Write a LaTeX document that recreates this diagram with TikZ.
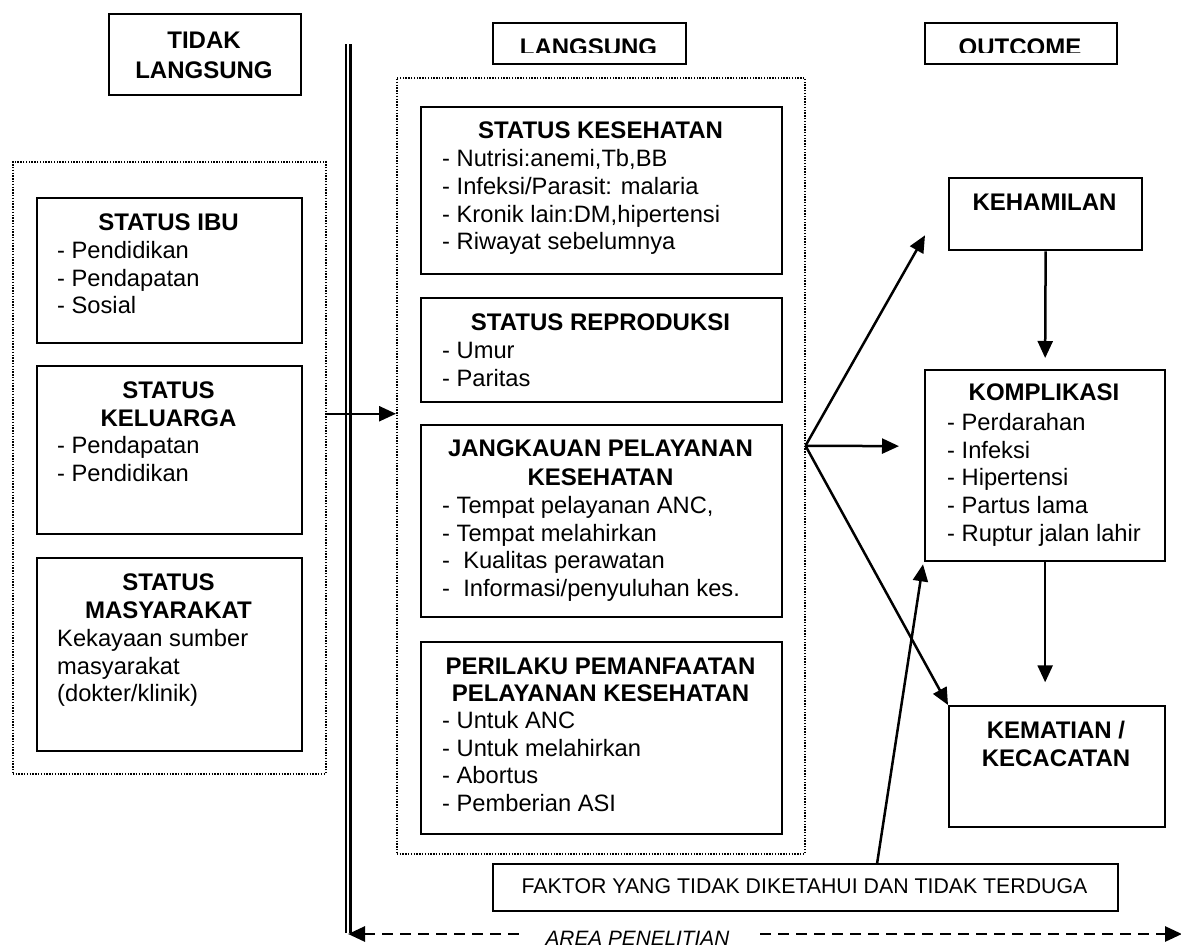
\documentclass[tikz,border=0pt]{standalone}
\usepackage{fontspec}
\setmainfont{Liberation Sans}
\usetikzlibrary{arrows.meta,calc}
\begin{document}
\begin{tikzpicture}[x=1pt,y=-1pt,
  box/.style={draw, line width=2.3pt, inner sep=0pt, anchor=north west},
  grp/.style={draw, line width=1.5pt, dash pattern=on 1.4pt off 1.4pt, inner sep=0pt, anchor=north west},
  ttl/.style={anchor=base, inner sep=0pt, font=\bfseries\fontsize{24}{27.7}\selectfont},
  itm/.style={anchor=base west, inner sep=0pt, font=\fontsize{23.7}{27.7}\selectfont},
  arr/.style={line width=2.5pt, -{Triangle[length=17pt,width=15pt]}},
  dblline/.style={line width=2.4pt},
  areaarr/.style={line width=2.8pt, dash pattern=on 11pt off 7pt, {Triangle[length=17pt,width=15pt]}-{Triangle[length=17pt,width=15pt]}}
]
\useasboundingbox (0,0) rectangle (1181,948);

% dotted groups
\node[grp, minimum width=313, minimum height=612] (leftgrp) at (12,161) {};
\node[grp, minimum width=408, minimum height=776] (midgrp) at (396,77) {};

% headers
\node[box, minimum width=192, minimum height=81] (hTidak) at (108,13) {};
\node[ttl] (hTidak-1) at (204,48) {TIDAK};
\node[ttl] (hTidak-2) at (204,78) {LANGSUNG};
\node[box, minimum width=193, minimum height=41] (hLang) at (492,22) {};
\begin{scope}
\clip (492,22) rectangle (685,52);
\node[ttl] (hLang-t) at (588.5,55) {LANGSUNG};
\end{scope}
\node[box, minimum width=192, minimum height=41] (hOut) at (924,22) {};
\begin{scope}
\clip (924,22) rectangle (1116,52);
\node[ttl] (hOut-t) at (1020,55) {OUTCOME};
\end{scope}

% double vertical line
\draw[dblline] (346,44) -- (346,933);
\draw[dblline] (350.5,44) -- (350.5,933);

% left column
\node[box, minimum width=265, minimum height=145] (ibu) at (36,197) {};
\node[ttl] (ibu-t) at (168.5,230.5) {STATUS IBU};
\foreach \t [count=\i from 0] in {{- Pendidikan},{- Pendapatan},{- Sosial}}
  \node[itm] (ibu-\i) at (57,258.5+27.7*\i) {\t};

\node[box, minimum width=265, minimum height=168] (kel) at (36,365) {};
\node[ttl] (kel-t1) at (168.5,398.5) {STATUS};
\node[ttl] (kel-t2) at (168.5,426.5) {KELUARGA};
\foreach \t [count=\i from 0] in {{- Pendapatan},{- Pendidikan}}
  \node[itm] (kel-\i) at (57,453.5+27.7*\i) {\t};

\node[box, minimum width=265, minimum height=193] (mas) at (36,557) {};
\node[ttl] (mas-t1) at (168.5,590.5) {STATUS};
\node[ttl] (mas-t2) at (168.5,618.5) {MASYARAKAT};
\foreach \t [count=\i from 0] in {{Kekayaan sumber},{masyarakat},{(dokter/klinik)}}
  \node[itm] (mas-\i) at (57,646.5+27.7*\i) {\t};

% middle column
\node[box, minimum width=361, minimum height=167] (kes) at (420,106) {};
\node[ttl] (kes-t) at (600.5,138.5) {STATUS KESEHATAN};
\foreach \t [count=\i from 0] in {{- Nutrisi:anemi,Tb,BB},{- Infeksi/Parasit: malaria},{- Kronik lain:DM,hipertensi},{- Riwayat sebelumnya}}
  \node[itm] (kes-\i) at (442,166.5+27.8*\i) {\t};

\node[box, minimum width=361, minimum height=104] (rep) at (420,297) {};
\node[ttl] (rep-t) at (600.5,330.5) {STATUS REPRODUKSI};
\foreach \t [count=\i from 0] in {{- Umur},{- Paritas}}
  \node[itm] (rep-\i) at (442,358.5+27.7*\i) {\t};

\node[box, minimum width=361, minimum height=192] (jang) at (420,424) {};
\node[ttl] (jang-t1) at (600.5,456.5) {JANGKAUAN PELAYANAN};
\node[ttl] (jang-t2) at (600.5,485) {KESEHATAN};
\foreach \t [count=\i from 0] in {{- Tempat pelayanan ANC,},{- Tempat melahirkan},{-\ \ Kualitas perawatan},{-\ \ Informasi/penyuluhan kes.}}
  \node[itm] (jang-\i) at (442,513.5+27.7*\i) {\t};

\node[box, minimum width=361, minimum height=192] (pril) at (420,641) {};
\node[ttl] (pril-t1) at (600.5,674.5) {PERILAKU PEMANFAATAN};
\node[ttl] (pril-t2) at (600.5,701.5) {PELAYANAN KESEHATAN};
\foreach \t [count=\i from 0] in {{- Untuk ANC},{- Untuk melahirkan},{- Abortus},{- Pemberian ASI}}
  \node[itm] (pril-\i) at (442,728.5+27.7*\i) {\t};

% right column
\node[box, minimum width=193, minimum height=72] (keh) at (948,177) {};
\node[ttl] (keh-t) at (1044.5,210.5) {KEHAMILAN};

\node[box, minimum width=240, minimum height=191] (kom) at (924,369) {};
\node[ttl] (kom-t) at (1044,400.5) {KOMPLIKASI};
\foreach \t [count=\i from 0] in {{- Perdarahan},{- Infeksi},{- Hipertensi},{- Partus lama},{- Ruptur jalan lahir}}
  \node[itm] (kom-\i) at (947,430.5+27.7*\i) {\t};

\node[box, minimum width=216, minimum height=121] (kem) at (948,705) {};
\node[ttl] (kem-t1) at (1056,738.5) {KEMATIAN /};
\node[ttl] (kem-t2) at (1056,766.5) {KECACATAN};

% unknown factors
\node[box, minimum width=625, minimum height=47] (fak) at (492,863) {};
\node[anchor=base, inner sep=0pt, font=\fontsize{21.3}{25}\selectfont] (fak-t) at (804.5,893.5) {FAKTOR YANG TIDAK DIKETAHUI DAN TIDAK TERDUGA};

% arrows
\draw[arr] ($(leftgrp.east)+(0,-54)$) -- ($(midgrp.west)+(0,-52)$);
\coordinate (fan) at ($(midgrp.east)+(0,-20)$);
\draw[arr] (fan) -- ($(keh.south west)+(-23,-16)$);
\draw[arr] (fan) -- ($(kom.west)+(-25,-19.5)$);
\draw[arr] (fan) -- (kem.north west);
\draw[arr] (keh.south) -- ($(kom.north)+(0,-11)$);
\draw[arr] (kom.south) -- ($(kom.south)+(0,120)$);
\draw[arr] ($(fak.north)+(71.5,0)$) -- ($(kom.south west)+(-1,2)$);

% research area
\coordinate (areaL) at (348,934);
\coordinate (areaR) at (1182,934);
\draw[areaarr] (areaL) -- (areaR);
\node[anchor=base, fill=white, inner xsep=24pt, inner ysep=1pt, font=\itshape\fontsize{20.8}{24}\selectfont] (area) at (637.5,945) {AREA PENELITIAN};
\end{tikzpicture}
\end{document}
